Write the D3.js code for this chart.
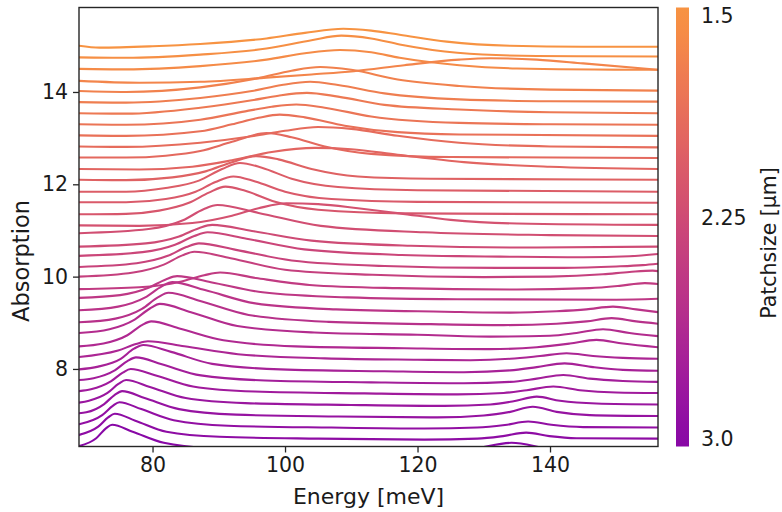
<!DOCTYPE html>
<html>
<head>
<meta charset="utf-8">
<script src="https://cdn.jsdelivr.net/npm/d3@7"></script>
<style>
  body { margin: 0; background: #ffffff; }
  text { font-family: "DejaVu Sans", sans-serif; fill: #1a1a1a; }
</style>
</head>
<body>
<svg id="chart" width="782" height="512"></svg>
<script>
// Patch size of each spectrum, in the same order as `spectra` (µm)
const patchSizes = [1.500, 1.542, 1.583, 1.625, 1.667, 1.708, 1.750, 1.792, 1.833, 1.875,
  1.917, 1.958, 2.000, 2.042, 2.083, 2.125, 2.167, 2.208, 2.250, 2.292,
  2.333, 2.375, 2.417, 2.458, 2.500, 2.542, 2.583, 2.625, 2.667, 2.708,
  2.750, 2.792, 2.833, 2.875, 2.917, 2.958, 3.000];

// Offset absorption spectra: [energy (meV), absorption] pairs, one list per patch size
const spectra = [
  [[68.9,15.00],[72,14.96],[80,14.99],[87.2,15.04],[97.2,15.16],[103,15.28],[108.8,15.37],[113,15.33],[117.3,15.24],[124.4,15.09],[134,15.00],[145,14.98],[156.3,14.98]],
  [[68.9,14.75],[76,14.74],[87.2,14.81],[97.2,14.94],[104,15.12],[108.5,15.22],[113,15.16],[117.3,15.03],[126,14.85],[138,14.78],[156.3,14.77]],
  [[68.9,14.50],[76,14.49],[87.2,14.56],[97.2,14.70],[103,14.84],[108.3,14.91],[113,14.86],[117.3,14.74],[126.3,14.58],[135,14.51],[156.3,14.48]],
  [[68.9,14.24],[78,14.20],[87.2,14.22],[97.2,14.31],[104,14.38],[110.4,14.45],[118,14.58],[126.3,14.70],[131,14.73],[138,14.70],[145,14.62],[156.3,14.48]],
  [[68.9,14.02],[76,14.00],[87.2,14.10],[96,14.30],[101,14.46],[105.3,14.54],[110,14.48],[117,14.27],[126.3,14.13],[140,14.05],[156.3,14.03]],
  [[68.9,13.78],[76,13.77],[87.2,13.87],[95,14.02],[99.5,14.15],[103.8,14.22],[108,14.15],[115,13.97],[126.3,13.84],[140,13.80],[156.3,13.79]],
  [[68.9,13.54],[76,13.53],[87.2,13.66],[95,13.82],[99,13.92],[103.3,13.98],[108,13.90],[115,13.72],[126.3,13.62],[140,13.56],[156.3,13.54]],
  [[68.9,13.30],[76,13.29],[87.2,13.40],[94,13.58],[98,13.68],[101.7,13.73],[106,13.66],[113,13.47],[126.3,13.33],[140,13.30],[156.3,13.29]],
  [[68.9,13.06],[76,13.05],[87.2,13.15],[92,13.30],[96,13.44],[99.2,13.51],[103,13.45],[109,13.27],[117,13.13],[126.3,13.08],[156.3,13.05]],
  [[68.9,12.82],[76,12.81],[87.2,12.90],[95,13.04],[100,13.16],[105,13.24],[110,13.20],[117,13.05],[126.3,12.90],[140,12.82],[156.3,12.80]],
  [[68.9,12.58],[76,12.58],[82,12.62],[87.2,12.72],[92,12.92],[97.2,13.11],[101,13.02],[106,12.82],[113,12.66],[125,12.59],[156.3,12.57]],
  [[68.9,12.33],[78,12.32],[86,12.38],[92,12.52],[98,12.70],[104.5,12.79],[110,12.76],[117,12.64],[127,12.48],[140,12.38],[156.3,12.33]],
  [[68.9,12.10],[76,12.09],[83,12.15],[88,12.28],[92,12.48],[95.7,12.61],[99,12.54],[104,12.33],[111,12.17],[122,12.12],[156.3,12.10]],
  [[68.9,11.84],[76,11.84],[82,11.92],[87,12.08],[90.5,12.33],[93.2,12.46],[96.5,12.36],[101,12.12],[108,11.94],[120,11.87],[156.3,11.84]],
  [[68.9,11.61],[76,11.61],[82,11.68],[86.5,11.84],[89.5,12.05],[92.2,12.17],[95.5,12.06],[100,11.84],[107,11.68],[120,11.62],[156.3,11.60]],
  [[68.9,11.35],[76,11.36],[81,11.43],[85.5,11.60],[88.5,11.82],[91,11.95],[94,11.86],[98.5,11.62],[105,11.45],[118,11.37],[156.3,11.35]],
  [[68.9,11.11],[78,11.10],[86,11.16],[92,11.32],[96,11.48],[100.2,11.59],[105,11.57],[111,11.48],[117.3,11.37],[125,11.23],[135,11.15],[156.3,11.12]],
  [[68.9,10.94],[79.4,11.03],[84.6,11.22],[87.7,11.46],[89.8,11.55],[96,11.38],[105.4,11.10],[121,10.96],[140,10.90],[156.3,10.88]],
  [[68.9,10.65],[79,10.72],[84,10.87],[87,11.05],[89,11.12],[95,10.99],[104,10.78],[119,10.67],[138,10.63],[156.3,10.65]],
  [[68.9,10.45],[78.5,10.53],[83.4,10.69],[86.3,10.88],[88.3,10.96],[94.2,10.82],[102.9,10.59],[117.6,10.47],[135,10.43],[145,10.42],[152,10.44],[156.3,10.49]],
  [[68.9,10.21],[77.6,10.29],[82.3,10.45],[85.1,10.64],[87,10.72],[92.6,10.58],[101,10.35],[115,10.23],[132,10.19],[142,10.19],[150,10.22],[154,10.25],[156.3,10.28]],
  [[68.9,10.00],[77.1,10.09],[81.7,10.26],[84.5,10.46],[86.3,10.54],[91.8,10.40],[100,10.15],[113.2,10.04],[130,9.99],[140,10.00],[148,10.05],[152,10.10],[155.5,10.13],[156.3,10.12]],
  [[68.9,9.73],[78,9.77],[84.2,9.89],[87.8,10.03],[90.2,10.09],[95.6,9.97],[103.7,9.82],[117,9.75],[135,9.72],[146,9.75],[150.5,9.80],[154.3,9.86],[156.3,9.84]],
  [[68.9,9.54],[75.1,9.60],[79.4,9.76],[82,9.94],[83.7,10.01],[88.8,9.88],[96.6,9.66],[109.4,9.55],[126,9.51],[150,9.50],[156.3,9.52]],
  [[68.9,9.27],[74.8,9.35],[78.9,9.55],[81.4,9.79],[83,9.88],[87.9,9.71],[95.5,9.42],[107.7,9.29],[124,9.24],[134,9.22],[141,9.25],[145.5,9.29],[149.5,9.35],[153,9.29],[156.3,9.23]],
  [[68.9,9.01],[74.4,9.09],[78.4,9.30],[80.8,9.55],[82.4,9.65],[87.2,9.47],[94.5,9.17],[106.6,9.02],[122,8.97],[133,8.95],[141,8.98],[145.5,9.03],[149.3,9.10],[153,9.03],[156.3,8.98]],
  [[68.9,8.78],[73.5,8.86],[77.3,9.07],[79.6,9.31],[81.1,9.41],[85.8,9.23],[92.8,8.93],[104.4,8.79],[120,8.74],[131,8.70],[140,8.72],[144,8.78],[148,8.86],[152,8.78],[156.3,8.71]],
  [[68.9,8.49],[72.6,8.55],[76.2,8.73],[78.4,8.95],[79.8,9.03],[84.2,8.87],[90.7,8.62],[101.6,8.49],[118,8.45],[131,8.43],[138,8.47],[143,8.55],[147,8.63],[151,8.55],[156.3,8.47]],
  [[68.9,8.26],[74.8,8.40],[77.5,8.54],[79.3,8.60],[84.8,8.49],[92.9,8.32],[106,8.23],[120,8.20],[128,8.19],[134,8.22],[138.5,8.28],[142.5,8.34],[146.5,8.28],[151,8.24],[156.3,8.22]],
  [[68.9,7.99],[71.8,8.05],[75.2,8.22],[77.2,8.44],[78.6,8.52],[82.8,8.37],[89,8.11],[99.3,7.99],[115,7.95],[127,7.93],[134,7.97],[138,8.04],[142.2,8.12],[146.5,8.04],[151,7.98],[156.3,7.96]],
  [[68.9,7.76],[71.1,7.80],[74.3,7.97],[76.2,8.17],[77.5,8.25],[81.4,8.10],[87.3,7.86],[97,7.75],[113,7.71],[127,7.69],[134,7.72],[138,7.79],[142,7.87],[146,7.79],[151,7.74],[156.3,7.72]],
  [[68.9,7.52],[70.7,7.56],[73.7,7.73],[75.5,7.92],[76.7,8.00],[80.5,7.86],[86.1,7.62],[95.4,7.51],[112,7.47],[126,7.45],[133,7.48],[136.5,7.54],[140.5,7.62],[144.5,7.54],[150,7.49],[156.3,7.48]],
  [[68.9,7.27],[70.4,7.31],[73.2,7.48],[74.9,7.68],[76,7.76],[79.6,7.61],[85,7.37],[94,7.26],[110,7.22],[124,7.20],[131,7.23],[134.5,7.30],[138,7.40],[141.5,7.31],[147,7.25],[156.3,7.23]],
  [[68.9,7.04],[70,7.06],[72.7,7.24],[74.3,7.44],[75.4,7.52],[78.8,7.37],[84,7.13],[92.6,7.01],[108,6.97],[123,6.95],[130,6.99],[134,7.07],[137.4,7.18],[141,7.07],[146,7.00],[156.3,6.98]],
  [[68.9,6.80],[72.4,7.00],[74,7.20],[75,7.28],[78.3,7.13],[83.2,6.89],[91.4,6.77],[107,6.73],[121,6.71],[129,6.73],[133.2,6.785],[136.7,6.86],[140.2,6.79],[145,6.74],[156.3,6.73]],
  [[68.9,6.57],[71.8,6.75],[73.3,6.95],[74.3,7.03],[77.4,6.88],[82.1,6.64],[90.1,6.53],[105,6.49],[121,6.47],[129,6.49],[132.9,6.545],[136.4,6.62],[139.9,6.545],[144,6.50],[156.3,6.49]],
  [[68.9,6.33],[71.5,6.50],[73,6.72],[73.9,6.79],[77,6.64],[81.7,6.40],[89.5,6.28],[105,6.24],[121,6.22],[128,6.26],[134.2,6.40],[140,6.27],[147,6.22],[156.3,6.22]]
];

const energyDomain = [68.9, 156.3];
const absorptionDomain = [6.32, 15.83];
const colorTicks = [1.5, 2.25, 3.0];
const xTicks = [80, 100, 120, 140];
const yTicks = [8, 10, 12, 14];
const xLabel = "Energy [meV]";
const yLabel = "Absorption";
const colorLabel = "Patchsize [µm]";

const svg = d3.select("#chart");
const plot = { left: 79, right: 658, top: 7.5, bottom: 446.5 };
const bar = { left: 676, width: 13 };

const x = d3.scaleLinear().domain(energyDomain).range([plot.left, plot.right]);
const y = d3.scaleLinear().domain(absorptionDomain).range([plot.bottom, plot.top]);

// plasma colour map segment, purple for large patches to orange for small ones
const colorPos = d3.scaleLinear().domain([3.0, 1.5]).range([0.28, 0.745]).clamp(true);
const color = p => d3.interpolatePlasma(colorPos(p));

const defs = svg.append("defs");
defs.append("clipPath").attr("id", "plotClip")
  .append("rect")
  .attr("x", plot.left).attr("y", plot.top)
  .attr("width", plot.right - plot.left).attr("height", plot.bottom - plot.top);

const line = d3.line()
  .x(d => x(d[0]))
  .y(d => y(d[1]))
  .curve(d3.curveMonotoneX);

const lines = svg.append("g").attr("clip-path", "url(#plotClip)");
spectra.forEach((s, i) => {
  lines.append("path")
    .attr("d", line(s))
    .attr("fill", "none")
    .attr("stroke", color(patchSizes[i]))
    .attr("stroke-width", 2.1)
    .attr("stroke-linejoin", "round")
    .attr("stroke-linecap", "round");
});

// axes
const xAxis = d3.axisBottom(x).tickValues(xTicks).tickSize(6).tickPadding(5).tickFormat(d3.format("d"));
const yAxis = d3.axisLeft(y).tickValues(yTicks).tickSize(6).tickPadding(5).tickFormat(d3.format("d"));

const gx = svg.append("g").attr("transform", `translate(0,${plot.bottom})`).call(xAxis);
const gy = svg.append("g").attr("transform", `translate(${plot.left},0)`).call(yAxis);
[gx, gy].forEach(g => {
  g.select(".domain").remove();
  g.selectAll(".tick line").attr("stroke", "#262626").attr("stroke-width", 1.3);
  g.selectAll(".tick text").attr("font-size", "20.5px").attr("font-family", "DejaVu Sans").attr("fill", "#1a1a1a");
});

svg.append("rect")
  .attr("x", plot.left).attr("y", plot.top)
  .attr("width", plot.right - plot.left).attr("height", plot.bottom - plot.top)
  .attr("fill", "none").attr("stroke", "#262626").attr("stroke-width", 1.4);

svg.append("text")
  .attr("x", (plot.left + plot.right) / 2).attr("y", 504)
  .attr("text-anchor", "middle").attr("font-size", "22px")
  .text(xLabel);

svg.append("text")
  .attr("transform", "translate(29,261) rotate(-90)")
  .attr("text-anchor", "middle").attr("font-size", "22.5px")
  .text(yLabel);

// colour bar: label positions along the bar for the tick values
const cb = d3.scaleLinear().domain(colorTicks).range([16, 218, 439]);
const grad = defs.append("linearGradient")
  .attr("id", "cbGrad").attr("x1", 0).attr("y1", 0).attr("x2", 0).attr("y2", 1);
d3.range(0, 1.0001, 0.05).forEach(f => {
  const py = plot.top + f * (plot.bottom - plot.top);
  grad.append("stop").attr("offset", f).attr("stop-color", color(cb.invert(py)));
});
svg.append("rect")
  .attr("x", bar.left).attr("y", plot.top)
  .attr("width", bar.width).attr("height", plot.bottom - plot.top)
  .attr("fill", "url(#cbGrad)");

const cbAxis = d3.axisRight(cb).tickValues(colorTicks).tickSize(0).tickPadding(12)
  .tickFormat(d => d === 2.25 ? "2.25" : d3.format(".1f")(d));
const gc = svg.append("g").attr("transform", `translate(${bar.left + bar.width},0)`).call(cbAxis);
gc.select(".domain").remove();
gc.selectAll(".tick text").attr("font-size", "20.5px").attr("font-family", "DejaVu Sans").attr("fill", "#1a1a1a");

svg.append("text")
  .attr("transform", "translate(776,243) rotate(-90)")
  .attr("text-anchor", "middle").attr("font-size", "20.5px")
  .text(colorLabel);
</script>
</body>
</html>
